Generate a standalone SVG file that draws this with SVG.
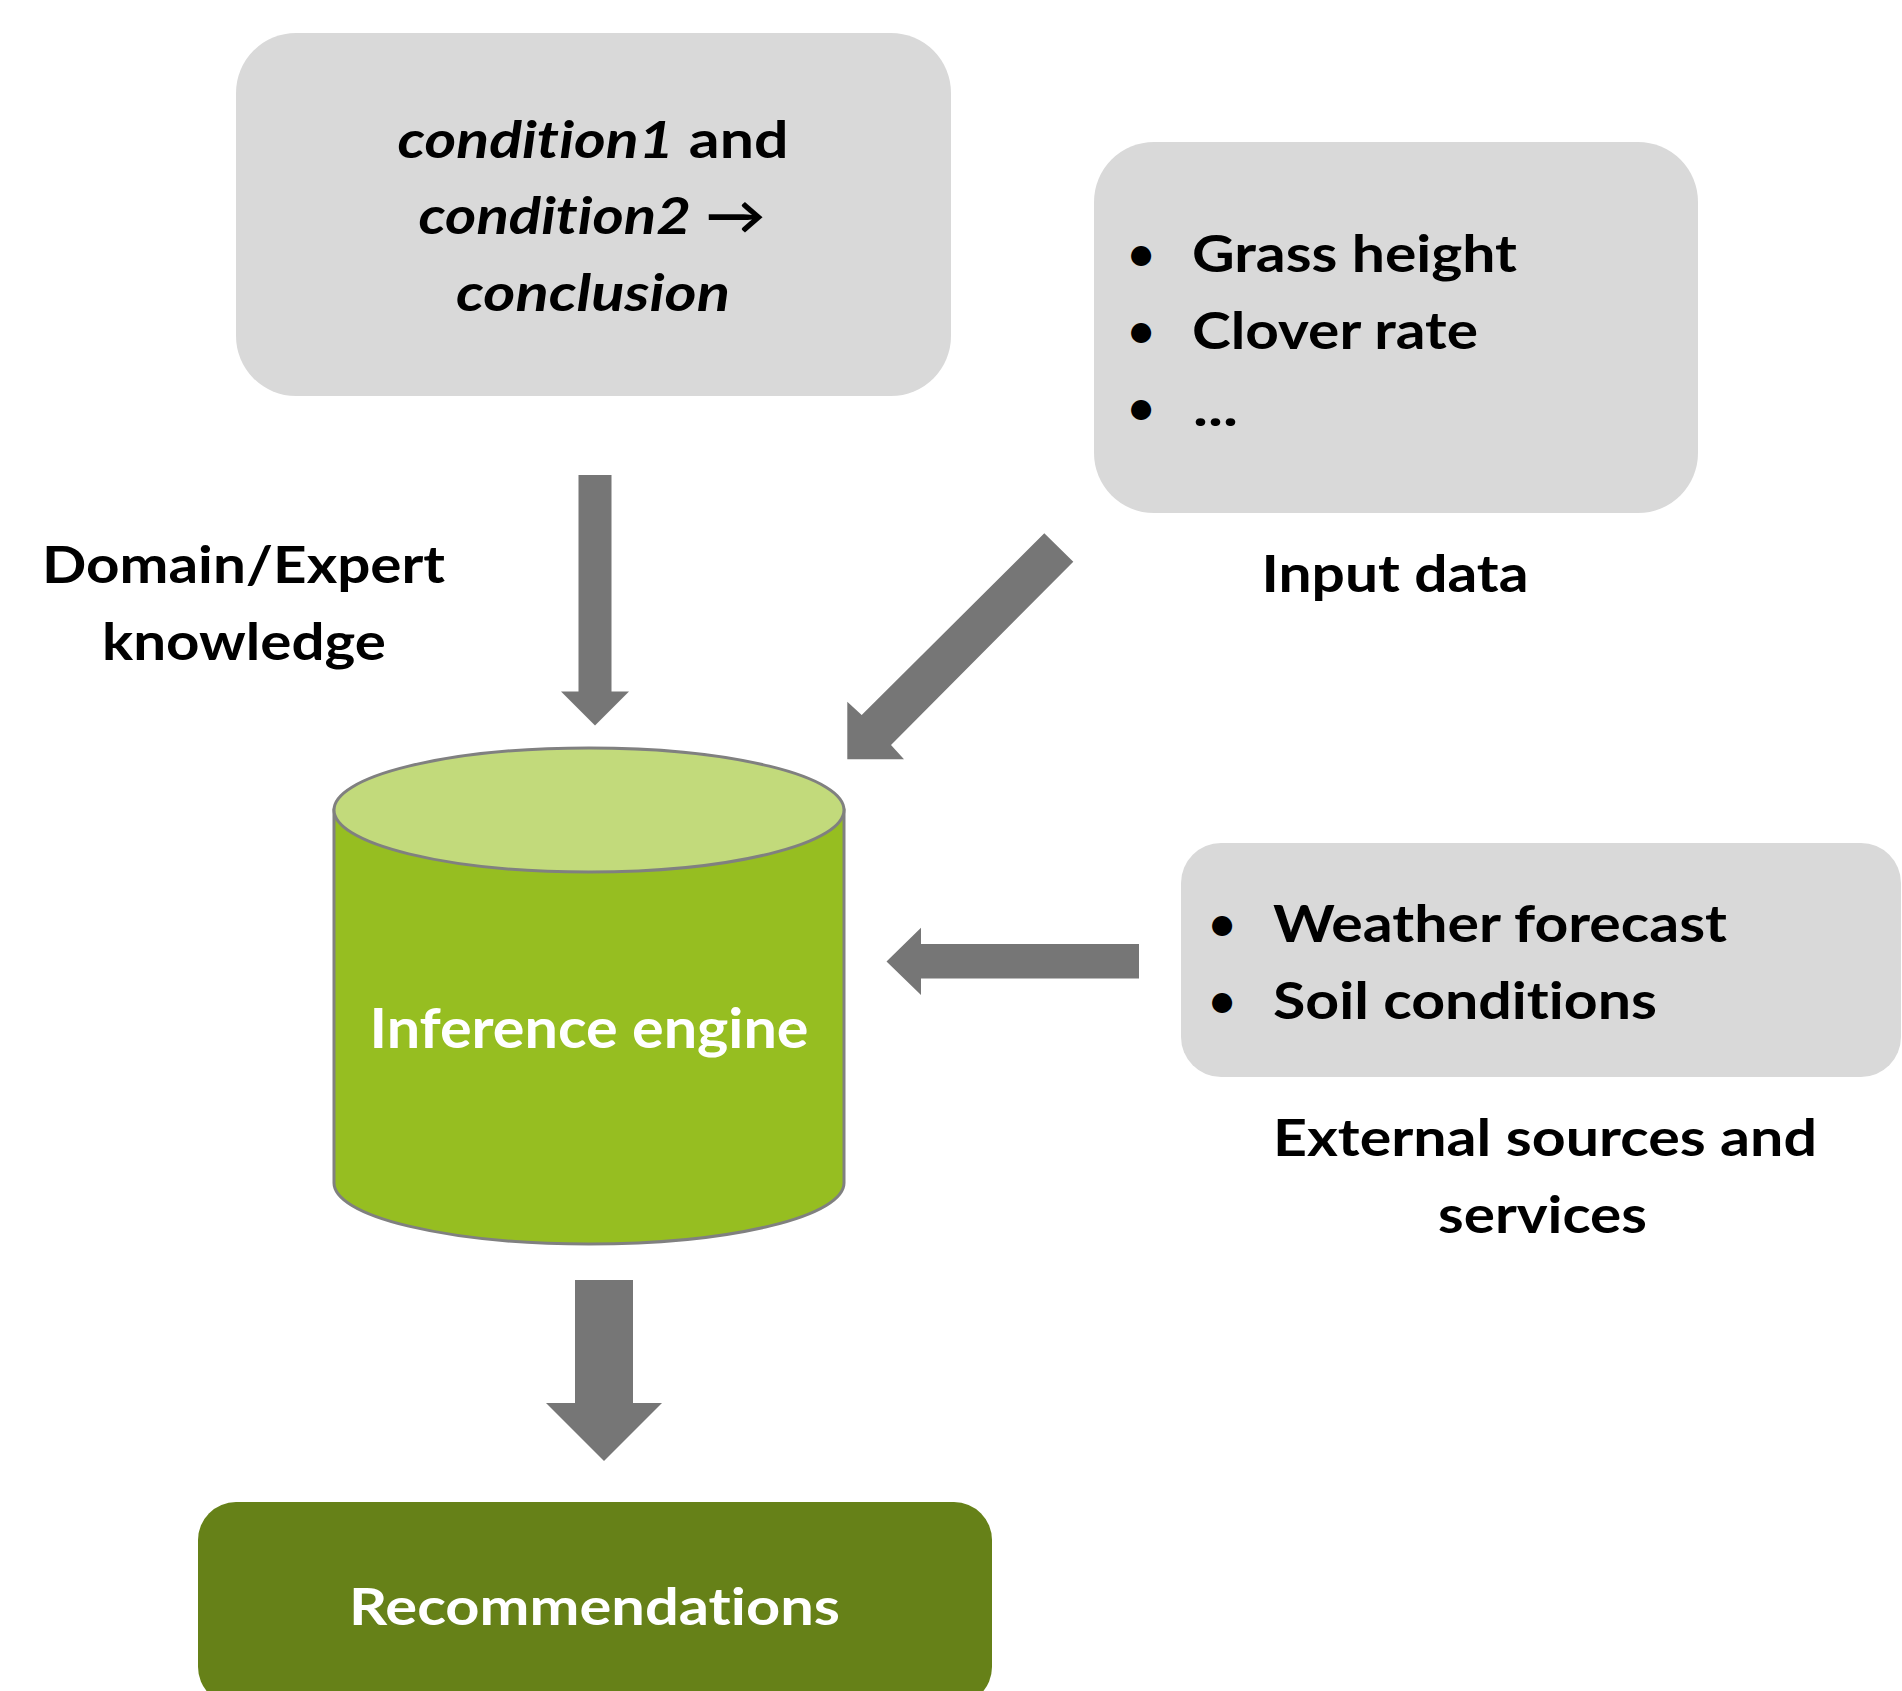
<svg xmlns="http://www.w3.org/2000/svg" width="1902" height="1691" viewBox="0 0 1902 1691">
  <style>
    .box { fill: #D9D9D9; }
    .arrow { fill: #767676; }
    text { font-variant-ligatures: none; font-feature-settings: "liga" 0, "dlig" 0; }
    .lbl { font-family: Lato, "Open Sans", "Liberation Sans", sans-serif; font-weight: bold; font-size: 52px; fill: #000000; }
    .bul { font-family: Lato, "Open Sans", "Liberation Sans", sans-serif; font-weight: bold; font-size: 46px; fill: #000000; }
    .wht { font-family: Lato, "Open Sans", "Liberation Sans", sans-serif; font-weight: bold; fill: #FFFFFF; }
    .it { font-style: italic; }
  </style>
  <rect width="1902" height="1691" fill="#FFFFFF"/>

  <g id="connectors">
    <polygon class="arrow" points="578.5,475 611.5,475 611.5,691.5 629,691.5 595,725.5 561,691.5 578.5,691.5"/>
    <polygon class="arrow" points="1044.3,533.3 1073.3,561.7 891,745 904,759.3 847.3,759.3 847.3,701.7 861.7,715"/>
    <polygon class="arrow" points="1139,944 1139,978.5 921,978.5 921,995 886.5,961.5 921,927.7 921,944"/>
    <polygon class="arrow" points="575,1280 633,1280 633,1403 662,1403 604,1461 546,1403 575,1403"/>
  </g>

  <g id="rule-box">
    <rect class="box" x="236" y="33" width="715" height="363" rx="60" ry="60"/>
    <text class="lbl" x="593" y="158" text-anchor="middle" textLength="391" lengthAdjust="spacingAndGlyphs"><tspan class="it">condition1</tspan> and</text>
    <text class="lbl" x="592" y="234" text-anchor="middle" textLength="347" lengthAdjust="spacingAndGlyphs"><tspan class="it">condition2</tspan> →</text>
    <text class="lbl it" x="593" y="311" text-anchor="middle" textLength="274" lengthAdjust="spacingAndGlyphs">conclusion</text>
  </g>

  <g id="domain-label">
    <text class="lbl" x="243.5" y="583" text-anchor="middle" textLength="403" lengthAdjust="spacingAndGlyphs">Domain/Expert</text>
    <text class="lbl" x="244" y="660" text-anchor="middle" textLength="284" lengthAdjust="spacingAndGlyphs">knowledge</text>
  </g>

  <g id="input-box">
    <rect class="box" x="1094" y="142" width="604" height="371" rx="60" ry="60"/>
    <text class="bul" x="1141" y="270" text-anchor="middle">•</text>
    <text class="lbl" x="1192" y="272" textLength="325" lengthAdjust="spacingAndGlyphs">Grass height</text>
    <text class="bul" x="1141" y="347" text-anchor="middle">•</text>
    <text class="lbl" x="1192" y="349" textLength="286" lengthAdjust="spacingAndGlyphs">Clover rate</text>
    <text class="bul" x="1141" y="424" text-anchor="middle">•</text>
    <text class="lbl" x="1193" y="426" textLength="45" lengthAdjust="spacingAndGlyphs">...</text>
  </g>

  <g id="input-label">
    <text class="lbl" x="1395" y="592" text-anchor="middle" textLength="267" lengthAdjust="spacingAndGlyphs">Input data</text>
  </g>

  <g id="inference-engine">
    <path d="M334,810 L334,1183 A255,61 0 0 0 844,1183 L844,810 Z" fill="#96BE21" stroke="#808080" stroke-width="3"/>
    <ellipse cx="589" cy="810" rx="255" ry="62" fill="#C2DA7B" stroke="#808080" stroke-width="3"/>
    <text class="wht" x="589" y="1048" font-size="56" text-anchor="middle" textLength="439" lengthAdjust="spacingAndGlyphs">Inference engine</text>
  </g>

  <g id="external-box">
    <rect class="box" x="1181" y="843" width="720" height="234" rx="40" ry="40"/>
    <text class="bul" x="1222" y="940" text-anchor="middle">•</text>
    <text class="lbl" x="1273" y="942" textLength="454" lengthAdjust="spacingAndGlyphs">Weather forecast</text>
    <text class="bul" x="1222" y="1017" text-anchor="middle">•</text>
    <text class="lbl" x="1273" y="1019" textLength="384" lengthAdjust="spacingAndGlyphs">Soil conditions</text>
  </g>

  <g id="external-label">
    <text class="lbl" x="1545" y="1156" text-anchor="middle" textLength="544" lengthAdjust="spacingAndGlyphs">External sources and</text>
    <text class="lbl" x="1542.5" y="1233" text-anchor="middle" textLength="209" lengthAdjust="spacingAndGlyphs">services</text>
  </g>

  <g id="recommendations">
    <rect x="198" y="1502" width="794" height="203" rx="38" ry="38" fill="#668118"/>
    <text class="wht" x="594.5" y="1625" font-size="52" text-anchor="middle" textLength="491" lengthAdjust="spacingAndGlyphs">Recommendations</text>
  </g>
</svg>
